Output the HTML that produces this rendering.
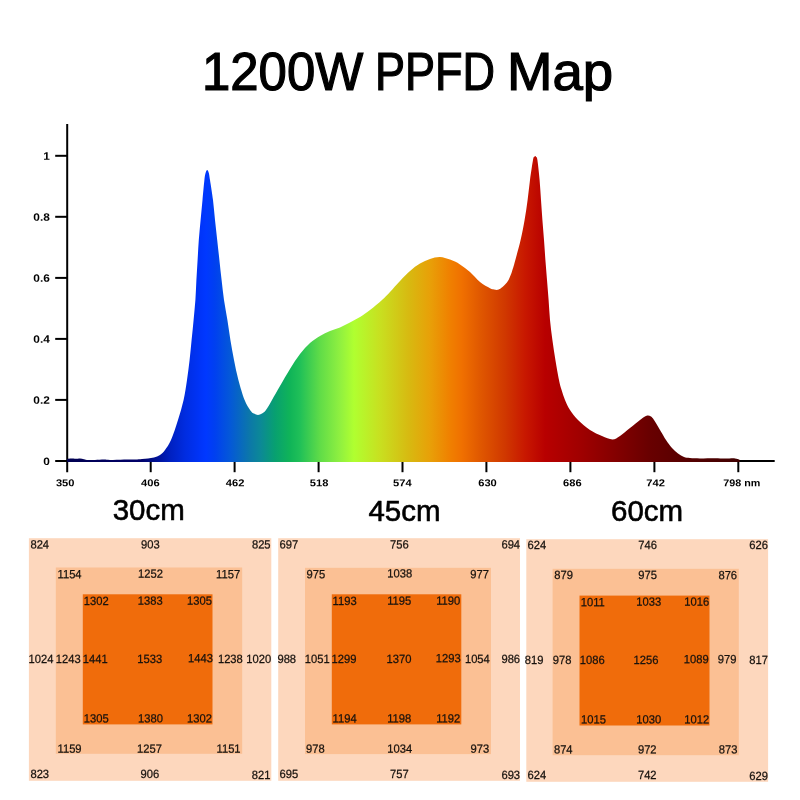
<!DOCTYPE html>
<html lang="en"><head><meta charset="utf-8"><title>1200W PPFD Map</title>
<style>
html,body{margin:0;padding:0;background:#ffffff}
body{width:800px;height:800px;overflow:hidden;position:relative;font-family:"Liberation Sans",sans-serif}
svg{display:block;position:absolute;left:0;top:0}
svg text{font-family:"Liberation Sans",sans-serif;fill:#000}
h1{position:absolute;left:0;top:44.64px;margin:0;width:800px;height:53.0px;font-size:53.0px;line-height:1;font-weight:normal;color:#000;white-space:nowrap;-webkit-text-stroke:1.2px #000}
h1 span{position:absolute;top:0;display:block;transform-origin:0 0}
h1 .w1{left:202.1px;transform:scaleX(0.96);letter-spacing:0px}
h1 .w2{left:374.7px;transform:scaleX(0.85);letter-spacing:0px}
h1 .w3{left:506.5px;transform:scaleX(1.03);letter-spacing:0px}
.h{font-size:29.6px;stroke:#000;stroke-width:0.6;stroke-linejoin:round}
.ax{font-size:10.0px;font-weight:bold}
.n{font-size:12.0px;fill:#17120e;stroke:#17120e;stroke-width:0.25}
</style></head><body>
<svg width="800" height="800" viewBox="0 0 800 800">
<rect width="800" height="800" fill="#ffffff"/>
<defs><linearGradient id="sp" gradientUnits="userSpaceOnUse" x1="67" y1="0" x2="740" y2="0">
<stop offset="0.0000" stop-color="#000050"/>
<stop offset="0.1085" stop-color="#000068"/>
<stop offset="0.1233" stop-color="#000c80"/>
<stop offset="0.1382" stop-color="#0014a0"/>
<stop offset="0.1530" stop-color="#0020c0"/>
<stop offset="0.1753" stop-color="#002ce0"/>
<stop offset="0.1976" stop-color="#0034f8"/>
<stop offset="0.2065" stop-color="#0038ff"/>
<stop offset="0.2199" stop-color="#0040f0"/>
<stop offset="0.2422" stop-color="#0458d8"/>
<stop offset="0.2571" stop-color="#0868c0"/>
<stop offset="0.2719" stop-color="#0c78a8"/>
<stop offset="0.2868" stop-color="#0c8898"/>
<stop offset="0.3091" stop-color="#08a070"/>
<stop offset="0.3314" stop-color="#10b458"/>
<stop offset="0.3462" stop-color="#20c058"/>
<stop offset="0.3759" stop-color="#60dc48"/>
<stop offset="0.4056" stop-color="#90f040"/>
<stop offset="0.4264" stop-color="#b0ff30"/>
<stop offset="0.4651" stop-color="#c8e020"/>
<stop offset="0.5097" stop-color="#d8b810"/>
<stop offset="0.5394" stop-color="#e8a008"/>
<stop offset="0.5691" stop-color="#f08000"/>
<stop offset="0.5869" stop-color="#f07000"/>
<stop offset="0.6137" stop-color="#e05800"/>
<stop offset="0.6508" stop-color="#d03800"/>
<stop offset="0.6805" stop-color="#c81800"/>
<stop offset="0.7103" stop-color="#b80000"/>
<stop offset="0.7623" stop-color="#a00000"/>
<stop offset="0.8217" stop-color="#800000"/>
<stop offset="0.8663" stop-color="#680000"/>
<stop offset="0.9406" stop-color="#500000"/>
<stop offset="1.0000" stop-color="#400000"/>
</linearGradient></defs>
<g stroke="#000" stroke-width="2" fill="none">
<path d="M67.2,124.0 V472.2"/>
<path d="M55.2,461.0 H774.7"/>
<path d="M55.2,399.9 H67.2"/>
<path d="M55.2,338.9 H67.2"/>
<path d="M55.2,277.9 H67.2"/>
<path d="M55.2,216.8 H67.2"/>
<path d="M55.2,155.8 H67.2"/>
<path d="M150.7,461.0 V472.2"/>
<path d="M234.6,461.0 V472.2"/>
<path d="M318.6,461.0 V472.2"/>
<path d="M402.5,461.0 V472.2"/>
<path d="M486.4,461.0 V472.2"/>
<path d="M570.4,461.0 V472.2"/>
<path d="M654.4,461.0 V472.2"/>
<path d="M738.3,461.0 V472.2"/>
</g>
<path d="M67.2,461.9 L67.0,459.3 C67.5,459.2 68.5,458.7 70.0,458.6 C71.5,458.5 74.3,458.8 76.0,458.8 C77.7,458.8 78.7,458.3 80.0,458.4 C81.3,458.5 82.7,458.9 84.0,459.2 C85.3,459.5 86.2,459.9 88.0,460.0 C89.8,460.1 92.3,460.1 95.0,460.0 C97.7,459.9 101.5,459.6 104.0,459.6 C106.5,459.6 106.7,460.0 110.0,460.0 C113.3,460.0 119.8,459.5 124.0,459.4 C128.2,459.3 132.0,459.7 135.0,459.6 C138.0,459.5 139.8,459.2 142.0,459.0 C144.2,458.8 146.0,458.7 148.0,458.4 C150.0,458.1 152.0,458.0 154.0,457.4 C156.0,456.8 158.2,456.2 160.0,455.0 C161.8,453.8 163.2,452.5 165.0,450.0 C166.8,447.5 168.8,445.0 171.0,440.0 C173.2,435.0 175.9,426.7 178.0,420.0 C180.1,413.3 182.1,406.7 183.6,400.0 C185.1,393.3 186.0,386.7 187.0,380.0 C188.0,373.3 188.8,366.7 189.6,360.0 C190.4,353.3 190.9,346.7 191.6,340.0 C192.3,333.3 193.0,326.7 193.6,320.0 C194.2,313.3 194.9,306.7 195.4,300.0 C195.9,293.3 196.0,286.7 196.4,280.0 C196.8,273.3 197.2,266.7 197.6,260.0 C198.0,253.3 198.3,246.7 198.8,240.0 C199.3,233.3 200.0,226.7 200.6,220.0 C201.2,213.3 201.9,206.7 202.5,200.0 C203.1,193.3 203.9,184.5 204.4,180.0 C204.9,175.5 205.1,174.7 205.6,173.0 C206.1,171.3 206.7,170.0 207.2,170.0 C207.7,170.0 208.3,171.3 208.8,173.0 C209.3,174.7 209.3,175.5 210.0,180.0 C210.7,184.5 212.2,193.3 213.0,200.0 C213.8,206.7 214.3,213.3 215.0,220.0 C215.7,226.7 216.5,233.3 217.2,240.0 C217.9,246.7 218.7,253.3 219.4,260.0 C220.1,266.7 220.8,273.3 221.6,280.0 C222.4,286.7 223.0,293.3 224.0,300.0 C225.0,306.7 226.3,313.3 227.4,320.0 C228.5,326.7 229.3,333.3 230.4,340.0 C231.5,346.7 232.7,353.3 234.0,360.0 C235.3,366.7 236.6,373.3 238.4,380.0 C240.2,386.7 242.6,394.9 244.6,400.0 C246.6,405.1 248.8,408.1 250.4,410.4 C252.0,412.7 252.7,412.8 254.0,413.6 C255.3,414.4 256.7,415.0 258.0,415.0 C259.3,415.0 260.7,414.4 262.0,413.6 C263.3,412.8 264.3,412.3 266.0,410.0 C267.7,407.7 269.7,404.0 272.0,400.0 C274.3,396.0 277.0,391.2 280.0,386.0 C283.0,380.8 286.7,374.3 290.0,369.0 C293.3,363.7 296.7,358.3 300.0,354.0 C303.3,349.7 306.7,346.0 310.0,343.0 C313.3,340.0 316.7,338.0 320.0,336.0 C323.3,334.0 326.7,332.4 330.0,331.0 C333.3,329.6 336.7,328.8 340.0,327.4 C343.3,326.0 346.7,324.1 350.0,322.4 C353.3,320.7 356.7,319.1 360.0,317.0 C363.3,314.9 366.3,312.8 370.0,310.0 C373.7,307.2 378.7,303.0 382.0,300.0 C385.3,297.0 387.0,295.2 390.0,292.0 C393.0,288.8 396.7,284.5 400.0,281.0 C403.3,277.5 406.7,273.9 410.0,271.0 C413.3,268.1 416.7,265.6 420.0,263.6 C423.3,261.6 426.7,260.1 430.0,259.0 C433.3,257.9 436.7,256.9 440.0,257.0 C443.3,257.1 446.7,258.4 450.0,259.6 C453.3,260.8 456.7,262.3 460.0,264.4 C463.3,266.5 466.7,269.1 470.0,272.0 C473.3,274.9 476.7,279.3 480.0,282.0 C483.3,284.7 487.7,287.0 490.0,288.2 C492.3,289.4 492.7,289.1 494.0,289.4 C495.3,289.7 496.6,290.2 498.0,289.8 C499.4,289.4 501.2,288.1 502.5,287.0 C503.8,285.9 505.0,284.8 506.0,283.5 C507.0,282.2 507.8,281.4 508.8,279.4 C509.8,277.4 511.0,274.5 512.0,271.5 C513.0,268.5 513.6,266.6 515.0,261.3 C516.4,256.1 519.0,246.9 520.6,240.0 C522.2,233.1 523.4,226.7 524.6,220.0 C525.8,213.3 526.7,206.7 527.6,200.0 C528.5,193.3 529.1,186.7 530.0,180.0 C530.9,173.3 532.3,163.8 533.0,160.0 C533.7,156.2 533.8,157.7 534.2,157.0 C534.6,156.3 534.9,156.0 535.2,156.0 C535.5,156.0 535.8,156.3 536.2,157.0 C536.6,157.7 536.8,156.2 537.4,160.0 C538.0,163.8 539.0,173.3 539.6,180.0 C540.2,186.7 540.5,193.3 541.0,200.0 C541.5,206.7 541.9,213.3 542.4,220.0 C542.9,226.7 543.5,233.3 544.0,240.0 C544.5,246.7 544.9,253.3 545.4,260.0 C545.9,266.7 546.5,273.3 547.0,280.0 C547.5,286.7 548.1,293.3 548.6,300.0 C549.1,306.7 549.4,313.3 550.0,320.0 C550.6,326.7 551.5,333.3 552.4,340.0 C553.3,346.7 554.3,353.3 555.4,360.0 C556.5,366.7 558.0,375.0 559.0,380.0 C560.0,385.0 560.6,386.7 561.6,390.0 C562.6,393.3 563.6,396.7 565.0,400.0 C566.4,403.3 567.8,406.7 570.0,410.0 C572.2,413.3 574.7,416.7 578.0,420.0 C581.3,423.3 586.0,427.3 590.0,430.0 C594.0,432.7 598.3,434.4 602.0,436.0 C605.7,437.6 609.4,439.4 612.4,439.4 C615.4,439.4 617.1,437.9 620.0,436.0 C622.9,434.1 626.7,430.7 630.0,428.0 C633.3,425.3 637.5,421.9 640.0,420.0 C642.5,418.1 643.7,417.3 645.0,416.6 C646.3,415.9 647.0,415.6 648.0,415.6 C649.0,415.6 650.0,415.9 651.0,416.6 C652.0,417.3 652.5,417.8 654.0,420.0 C655.5,422.2 658.0,426.7 660.0,430.0 C662.0,433.3 664.0,437.0 666.0,440.0 C668.0,443.0 670.0,445.8 672.0,448.0 C674.0,450.2 676.0,452.0 678.0,453.5 C680.0,455.0 682.0,456.2 684.0,457.0 C686.0,457.8 687.3,457.8 690.0,458.0 C692.7,458.2 695.8,458.4 700.0,458.4 C704.2,458.4 710.8,458.2 715.0,458.2 C719.2,458.2 721.7,458.6 725.0,458.6 C728.3,458.6 732.7,458.2 735.0,458.4 C737.3,458.5 738.2,459.1 739.0,459.5 C739.8,459.9 739.8,460.8 740.0,461.0 L740,461.9 Z" fill="url(#sp)"/>
<text class="ax" transform="translate(43.28,464.90) rotate(0.03) scale(1.19,1.08)">0</text>
<text class="ax" transform="translate(33.36,403.85) rotate(0.03) scale(1.19,1.08)">0.2</text>
<text class="ax" transform="translate(33.36,342.80) rotate(0.03) scale(1.19,1.08)">0.4</text>
<text class="ax" transform="translate(33.36,281.75) rotate(0.03) scale(1.19,1.08)">0.6</text>
<text class="ax" transform="translate(33.36,220.70) rotate(0.03) scale(1.19,1.08)">0.8</text>
<text class="ax" transform="translate(43.28,159.65) rotate(0.03) scale(1.19,1.08)">1</text>
<text class="ax" transform="translate(55.92,486.2) rotate(0.03) scale(1.114,1)">350</text>
<text class="ax" transform="translate(141.07,486.2) rotate(0.03) scale(1.117,1)">406</text>
<text class="ax" transform="translate(225.87,486.2) rotate(0.03) scale(1.117,1)">462</text>
<text class="ax" transform="translate(309.82,486.2) rotate(0.03) scale(1.114,1)">518</text>
<text class="ax" transform="translate(393.02,486.2) rotate(0.03) scale(1.114,1)">574</text>
<text class="ax" transform="translate(478.17,486.2) rotate(0.03) scale(1.117,1)">630</text>
<text class="ax" transform="translate(563.07,486.2) rotate(0.03) scale(1.117,1)">686</text>
<text class="ax" transform="translate(646.27,486.2) rotate(0.03) scale(1.117,1)">742</text>
<text class="ax" transform="translate(723.28,486.2) rotate(0.03) scale(1.077,1)">798 nm</text>
<text class="h" transform="translate(112.70,519.65) rotate(0.02) scale(0.9961,1.025)">30cm</text>
<text class="h" transform="translate(368.40,520.90) rotate(0.02) scale(0.9961,1.025)">45cm</text>
<text class="h" transform="translate(611.05,520.65) rotate(0.02) scale(0.9961,1.025)">60cm</text>
<rect x="28.9" y="538.2" width="242.4" height="242.6" fill="#fdd7bd"/>
<rect x="55.8" y="567.5" width="186.4" height="186.3" fill="#fbc094"/>
<rect x="82.8" y="594.3" width="129.7" height="130.1" fill="#f06c0b"/>
<rect x="278.2" y="538.2" width="241.8" height="242.6" fill="#fdd7bd"/>
<rect x="305.0" y="567.8" width="186.0" height="186.3" fill="#fbc094"/>
<rect x="331.8" y="594.3" width="129.5" height="130.1" fill="#f06c0b"/>
<rect x="526.3" y="539.2" width="241.8" height="242.6" fill="#fdd7bd"/>
<rect x="552.6" y="568.8" width="186.2" height="186.4" fill="#fbc094"/>
<rect x="579.5" y="595.6" width="130.0" height="129.9" fill="#f06c0b"/>
<text class="n" transform="translate(30.4,548.4) rotate(0.03) scale(0.934,1)">824</text>
<text class="n" transform="translate(141.0,548.4) rotate(0.03) scale(0.934,1)">903</text>
<text class="n" transform="translate(251.9,548.4) rotate(0.03) scale(0.934,1)">825</text>
<text class="n" transform="translate(57.5,578.2) rotate(0.03) scale(0.934,1)">1154</text>
<text class="n" transform="translate(138.0,577.8) rotate(0.03) scale(0.934,1)">1252</text>
<text class="n" transform="translate(216.1,578.2) rotate(0.03) scale(0.934,1)">1157</text>
<text class="n" transform="translate(83.8,605.1) rotate(0.03) scale(0.934,1)">1302</text>
<text class="n" transform="translate(137.7,604.8) rotate(0.03) scale(0.934,1)">1383</text>
<text class="n" transform="translate(187.0,604.8) rotate(0.03) scale(0.934,1)">1305</text>
<text class="n" transform="translate(28.5,662.9) rotate(0.03) scale(0.934,1)">1024</text>
<text class="n" transform="translate(55.8,662.9) rotate(0.03) scale(0.934,1)">1243</text>
<text class="n" transform="translate(82.7,662.9) rotate(0.03) scale(0.934,1)">1441</text>
<text class="n" transform="translate(137.3,662.9) rotate(0.03) scale(0.934,1)">1533</text>
<text class="n" transform="translate(188.1,662.2) rotate(0.03) scale(0.934,1)">1443</text>
<text class="n" transform="translate(217.9,662.9) rotate(0.03) scale(0.934,1)">1238</text>
<text class="n" transform="translate(246.2,662.9) rotate(0.03) scale(0.934,1)">1020</text>
<text class="n" transform="translate(83.8,722.4) rotate(0.03) scale(0.934,1)">1305</text>
<text class="n" transform="translate(138.0,722.4) rotate(0.03) scale(0.934,1)">1380</text>
<text class="n" transform="translate(187.0,722.4) rotate(0.03) scale(0.934,1)">1302</text>
<text class="n" transform="translate(57.5,752.8) rotate(0.03) scale(0.934,1)">1159</text>
<text class="n" transform="translate(137.0,752.8) rotate(0.03) scale(0.934,1)">1257</text>
<text class="n" transform="translate(216.5,752.8) rotate(0.03) scale(0.934,1)">1151</text>
<text class="n" transform="translate(30.4,778.0) rotate(0.03) scale(0.934,1)">823</text>
<text class="n" transform="translate(140.6,778.0) rotate(0.03) scale(0.934,1)">906</text>
<text class="n" transform="translate(251.8,779.1) rotate(0.03) scale(0.934,1)">821</text>
<text class="n" transform="translate(279.5,548.4) rotate(0.03) scale(0.934,1)">697</text>
<text class="n" transform="translate(390.1,548.4) rotate(0.03) scale(0.934,1)">756</text>
<text class="n" transform="translate(501.4,548.4) rotate(0.03) scale(0.934,1)">694</text>
<text class="n" transform="translate(306.5,578.2) rotate(0.03) scale(0.934,1)">975</text>
<text class="n" transform="translate(387.2,577.5) rotate(0.03) scale(0.934,1)">1038</text>
<text class="n" transform="translate(470.3,578.2) rotate(0.03) scale(0.934,1)">977</text>
<text class="n" transform="translate(332.6,605.1) rotate(0.03) scale(0.934,1)">1193</text>
<text class="n" transform="translate(387.2,604.8) rotate(0.03) scale(0.934,1)">1195</text>
<text class="n" transform="translate(436.2,604.8) rotate(0.03) scale(0.934,1)">1190</text>
<text class="n" transform="translate(277.4,662.9) rotate(0.03) scale(0.934,1)">988</text>
<text class="n" transform="translate(304.8,662.9) rotate(0.03) scale(0.934,1)">1051</text>
<text class="n" transform="translate(331.5,662.9) rotate(0.03) scale(0.934,1)">1299</text>
<text class="n" transform="translate(386.5,662.9) rotate(0.03) scale(0.934,1)">1370</text>
<text class="n" transform="translate(435.7,662.2) rotate(0.03) scale(0.934,1)">1293</text>
<text class="n" transform="translate(464.9,662.9) rotate(0.03) scale(0.934,1)">1054</text>
<text class="n" transform="translate(501.4,662.9) rotate(0.03) scale(0.934,1)">986</text>
<text class="n" transform="translate(332.6,722.4) rotate(0.03) scale(0.934,1)">1194</text>
<text class="n" transform="translate(387.2,722.4) rotate(0.03) scale(0.934,1)">1198</text>
<text class="n" transform="translate(436.2,722.4) rotate(0.03) scale(0.934,1)">1192</text>
<text class="n" transform="translate(306.1,752.8) rotate(0.03) scale(0.934,1)">978</text>
<text class="n" transform="translate(387.2,752.8) rotate(0.03) scale(0.934,1)">1034</text>
<text class="n" transform="translate(470.6,752.8) rotate(0.03) scale(0.934,1)">973</text>
<text class="n" transform="translate(279.5,778.0) rotate(0.03) scale(0.934,1)">695</text>
<text class="n" transform="translate(390.1,778.0) rotate(0.03) scale(0.934,1)">757</text>
<text class="n" transform="translate(501.4,779.1) rotate(0.03) scale(0.934,1)">693</text>
<text class="n" transform="translate(527.6,549.1) rotate(0.03) scale(0.934,1)">624</text>
<text class="n" transform="translate(638.2,549.1) rotate(0.03) scale(0.934,1)">746</text>
<text class="n" transform="translate(749.2,549.1) rotate(0.03) scale(0.934,1)">626</text>
<text class="n" transform="translate(554.2,578.9) rotate(0.03) scale(0.934,1)">879</text>
<text class="n" transform="translate(638.2,578.9) rotate(0.03) scale(0.934,1)">975</text>
<text class="n" transform="translate(718.4,579.2) rotate(0.03) scale(0.934,1)">876</text>
<text class="n" transform="translate(580.7,606.2) rotate(0.03) scale(0.934,1)">1011</text>
<text class="n" transform="translate(636.3,605.8) rotate(0.03) scale(0.934,1)">1033</text>
<text class="n" transform="translate(684.3,605.8) rotate(0.03) scale(0.934,1)">1016</text>
<text class="n" transform="translate(524.8,663.9) rotate(0.03) scale(0.934,1)">819</text>
<text class="n" transform="translate(552.7,663.9) rotate(0.03) scale(0.934,1)">978</text>
<text class="n" transform="translate(579.8,663.9) rotate(0.03) scale(0.934,1)">1086</text>
<text class="n" transform="translate(633.5,663.9) rotate(0.03) scale(0.934,1)">1256</text>
<text class="n" transform="translate(683.8,663.2) rotate(0.03) scale(0.934,1)">1089</text>
<text class="n" transform="translate(717.7,663.2) rotate(0.03) scale(0.934,1)">979</text>
<text class="n" transform="translate(749.2,663.9) rotate(0.03) scale(0.934,1)">817</text>
<text class="n" transform="translate(581.0,723.4) rotate(0.03) scale(0.934,1)">1015</text>
<text class="n" transform="translate(636.3,723.4) rotate(0.03) scale(0.934,1)">1030</text>
<text class="n" transform="translate(684.3,723.4) rotate(0.03) scale(0.934,1)">1012</text>
<text class="n" transform="translate(553.9,753.5) rotate(0.03) scale(0.934,1)">874</text>
<text class="n" transform="translate(637.9,753.5) rotate(0.03) scale(0.934,1)">972</text>
<text class="n" transform="translate(718.7,753.5) rotate(0.03) scale(0.934,1)">873</text>
<text class="n" transform="translate(527.6,779.1) rotate(0.03) scale(0.934,1)">624</text>
<text class="n" transform="translate(637.9,779.1) rotate(0.03) scale(0.934,1)">742</text>
<text class="n" transform="translate(749.2,780.1) rotate(0.03) scale(0.934,1)">629</text>
</svg>
<h1><span class="w1">1200W</span> <span class="w2">PPFD</span> <span class="w3">Map</span></h1>
</body></html>
